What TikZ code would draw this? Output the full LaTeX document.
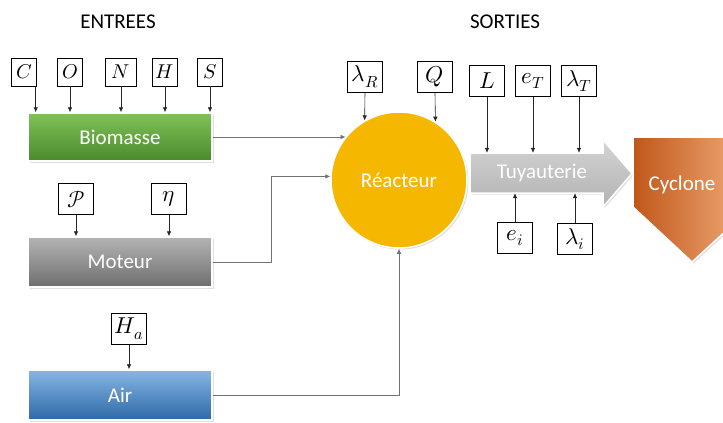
\documentclass[tikz,border=0pt]{standalone}
\usepackage{fontspec}
\usepackage{unicode-math}
\setmainfont{Carlito}
\setmathfont{Latin Modern Math}
\usetikzlibrary{arrows.meta,shadows}

\definecolor{bioTop}{HTML}{80C25A}
\definecolor{bioBot}{HTML}{4B8A2B}
\definecolor{motTop}{HTML}{B4B4B4}
\definecolor{motBot}{HTML}{6E6E6E}
\definecolor{airTop}{HTML}{86B6E6}
\definecolor{airBot}{HTML}{2F69A6}
\definecolor{reacFill}{HTML}{F5B700}
\definecolor{cycLeft}{HTML}{C0571A}
\definecolor{cycRight}{HTML}{F2AE7C}

\begin{document}
\begin{tikzpicture}[x=1pt, y=-1pt,
  param/.style={draw, fill=white, inner sep=2pt, minimum width=35pt, minimum height=31pt, font=\fontsize{23}{25}\selectfont},
  narrow/.style={minimum width=25pt, minimum height=28pt, font=\fontsize{20}{22}\selectfont},
  block/.style={draw=white, line width=1.5pt, minimum width=184pt, minimum height=48pt, text=white, font=\fontsize{21}{24}\selectfont, drop shadow={opacity=0.25, shadow xshift=1.5pt, shadow yshift=-1.5pt}},
  title/.style={font=\fontsize{21}{24}\selectfont},
  feed/.style={->, draw=black!85, line width=0.6pt},
  link/.style={->, draw=black!55, line width=0.7pt},
  >={Latex[length=5pt,width=4.5pt]}
]
\clip (0,0) rectangle (723,423);

% Titles
\node[title] (entrees) at (118,22) {ENTREES};
\node[title] (sorties) at (505,22) {SORTIES};

% Input blocks
\node[block, top color=bioTop, bottom color=bioBot] (bio) at (120,137) {Biomasse};
\node[block, top color=motTop, bottom color=motBot, minimum height=50pt] (mot) at (120,262) {Moteur};
\node[block, top color=airTop, bottom color=airBot, minimum height=50pt] (air) at (120,395) {Air};

% Biomasse composition
\node[param, narrow] (pC) at (24,72) {$C$};
\node[param, narrow] (pO) at (70,72) {$O$};
\node[param, narrow, minimum width=31pt] (pN) at (121,72) {$N$};
\node[param, narrow] (pH) at (165,72) {$H$};
\node[param, narrow] (pS) at (210,72) {$S$};
\draw[feed] ([xshift=-1pt]pC.south east) -- ([xshift=-1pt]pC.south east |- bio.north);
\foreach \p in {pO,pN,pH,pS}
  \draw[feed] (\p.south) -- (\p.south |- bio.north);

% Moteur and air parameters
\node[param] (pP) at (76,199) {$\mathcal{P}$};
\node[param] (pEta) at (169,199) {$\eta$};
\node[param] (pHa) at (129,329) {$H_a$};
\draw[feed] (pP.south) -- (pP.south |- mot.north);
\draw[feed] (pEta.south) -- (pEta.south |- mot.north);
\draw[feed] (pHa.south) -- (pHa.south |- air.north);

% Reactor
\node[circle, draw=white, line width=1.5pt, minimum size=136pt, fill=reacFill, text=white,
  font=\fontsize{21}{24}\selectfont, drop shadow={opacity=0.25, shadow xshift=1.5pt, shadow yshift=-1.5pt}] (reac) at (399,180) {Réacteur};
\node[param] (pLR) at (365,77) {$\lambda_R$};
\node[param] (pQ) at (435,77) {$Q$};
\draw[feed] (pLR.south) -- (reac.120);
\draw[feed] (pQ.south) -- (reac.58);

% Connections to the reactor
\draw[link] (bio.east) -- (bio.east -| reac.141);
\draw[link] (mot.east) -- ++(59,0) |- (reac.177);
\draw[link] (air.east) -| (reac.south);

% Piping arrow
\draw[draw=white, line width=1.5pt, top color=black!17, bottom color=black!30,
  drop shadow={opacity=0.25, shadow xshift=1.5pt, shadow yshift=-1.5pt}]
  (470,153) -- (603,153) -- (603,140) -- (632,173.5) -- (603,207) -- (603,193) -- (470,193) -- cycle;
\node[text=white, font=\fontsize{21}{24}\selectfont, minimum width=140pt, minimum height=40pt, inner sep=0pt] (tuy) at (542,173) {Tuyauterie};
\node[param] (pL) at (487,81) {$L$};
\node[param] (pEt) at (533,81) {$e_T$};
\node[param] (pLt) at (579,81) {$\lambda_T$};
\node[param] (pEi) at (515,238) {$e_i$};
\node[param] (pLi) at (575,239) {$\lambda_i$};
\foreach \p in {pL,pEt,pLt}
  \draw[feed] (\p.south) -- (\p.south |- tuy.north);
\foreach \p in {pEi,pLi}
  \draw[feed] (\p.north) -- (\p.north |- tuy.south);

% Cyclone
\draw[draw=white, line width=1.5pt, left color=cycLeft, right color=cycRight,
  drop shadow={opacity=0.25, shadow xshift=1.5pt, shadow yshift=-1.5pt}]
  (633,137) -- (752,137) -- (752,207) -- (692,262) -- (633,207) -- cycle;
\node[text=white, font=\fontsize{21}{24}\selectfont] (cyc) at (682,185) {Cyclone};
\end{tikzpicture}
\end{document}
